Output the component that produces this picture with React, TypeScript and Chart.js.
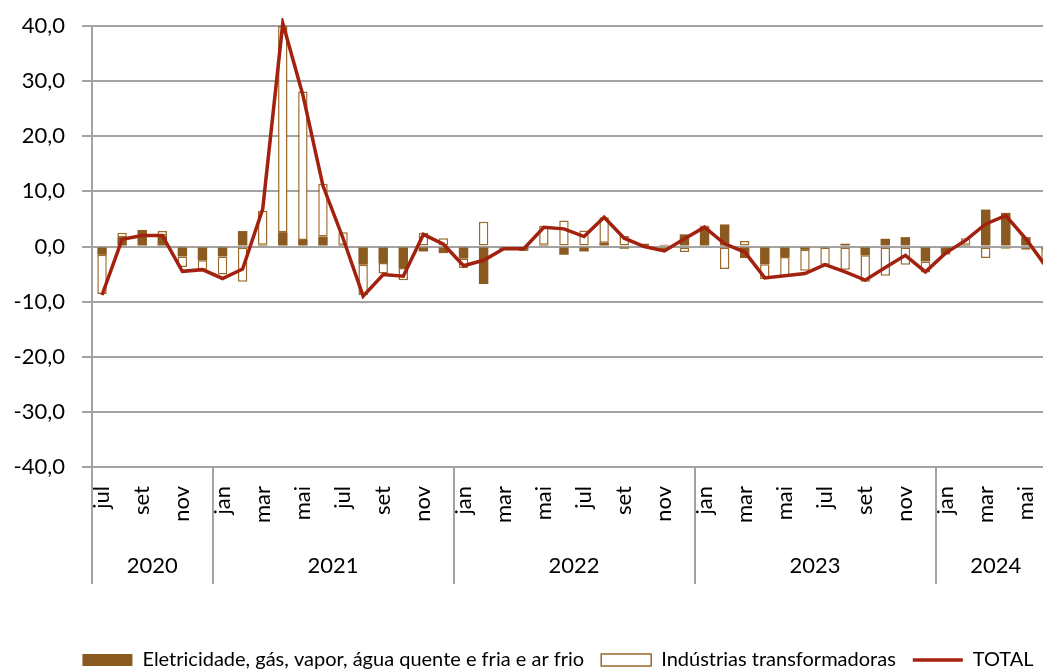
import React, { useEffect, useRef } from 'react';
import { Chart, registerables } from 'chart.js';

Chart.register(...registerables);

// ---- Data ----
const monthLabels = [
  'jul', 'ago', 'set', 'out', 'nov', 'dez',
  'jan', 'fev', 'mar', 'abr', 'mai', 'jun', 'jul', 'ago', 'set', 'out', 'nov', 'dez',
  'jan', 'fev', 'mar', 'abr', 'mai', 'jun', 'jul', 'ago', 'set', 'out', 'nov', 'dez',
  'jan', 'fev', 'mar', 'abr', 'mai', 'jun', 'jul', 'ago', 'set', 'out', 'nov', 'dez',
  'jan', 'fev', 'mar', 'abr', 'mai', 'jun',
];

const years = ['2020', '2021', '2022', '2023', '2024'];
const monthsPerYear = [6, 12, 12, 12, 6];

const eletricidade = [
  -1.5, 1.7, 3.0, 2.0, -1.8, -2.5,
  -1.8, 2.8, 0.3, 2.6, 1.2, 1.8, 0.3, -3.3, -3.0, -3.9, -0.9, -1.2,
  -2.2, -6.8, -0.4, -0.6, 0.3, -1.5, -0.9, 0.7, -0.4, 0.5, 0.3, 2.2,
  3.6, 4.0, -2.1, -3.2, -1.9, -0.6, -0.2, 0.5, -1.6, 1.4, 1.7, -2.7,
  -1.2, 0.3, 6.7, 6.1, 1.7, -0.5,
];

const industrias = [
  -7.1, 0.8, 0.0, 0.8, -1.9, -1.7,
  -3.3, -6.4, 6.2, 37.4, 26.9, 9.6, 2.3, -5.5, -1.9, -2.2, 2.5, 1.5,
  -1.7, 4.5, -0.3, -0.2, 3.4, 4.7, 2.9, 4.6, 1.9, -0.2, -0.7, -1.0,
  0.2, -4.1, 1.0, -2.7, -3.5, -3.8, -3.1, -4.2, -4.8, -5.3, -3.3, -2.0,
  -0.3, 1.2, -2.1, -0.4, -0.6, -2.5,
];

const total = [
  -8.8, 1.3, 2.0, 2.0, -4.5, -4.2,
  -5.8, -4.1, 6.8, 40.5, 27.5, 11.0, 1.5, -9.0, -5.1, -5.4, 2.2, 0.4,
  -3.5, -2.5, -0.4, -0.4, 3.5, 3.2, 1.8, 5.3, 1.5, 0.0, -0.8, 1.4,
  3.5, 0.5, -1.0, -5.7, -5.3, -4.9, -3.3, -4.6, -6.1, -3.8, -1.6, -4.6,
  -1.2, 1.1, 4.1, 5.6, 1.4, -3.6,
];

const seriesNames = [
  'Eletricidade, gás, vapor, água quente e fria e ar frio',
  'Indústrias transformadoras',
  'TOTAL',
];

// ---- Derived helpers (year groups on the category index) ----
const yearStarts: number[] = [];
const yearLabelIndex: number[] = []; // month index just left of each group's centre
{
  let acc = 0;
  monthsPerYear.forEach((n) => {
    yearStarts.push(acc);
    yearLabelIndex.push(acc + n / 2 - 1);
    acc += n;
  });
  yearStarts.push(acc);
}

const BROWN = '#8a5a20';
const BROWN_LINE = '#9a6a2c';
const RED = '#a2210f';
const GRID = '#a3a3a3';
const FONT = 'Lato';

export default function App() {
  const ref = useRef<HTMLCanvasElement>(null);

  useEffect(() => {
    if (!ref.current) return;
    Chart.defaults.font.family = FONT;
    const chart = new Chart(ref.current, {
      type: 'bar',
      data: {
        labels: monthLabels,
        datasets: [
          {
            type: 'bar',
            label: seriesNames[0],
            data: eletricidade,
            backgroundColor: BROWN,
            borderColor: BROWN,
            borderWidth: 0,
            stack: 'setores',
            order: 1,
            xAxisID: 'x',
            yAxisID: 'y',
            barPercentage: 0.47,
            categoryPercentage: 1,
          },
          {
            type: 'bar',
            label: seriesNames[1],
            data: industrias,
            backgroundColor: '#ffffff',
            borderColor: BROWN_LINE,
            borderWidth: 1.5,
            borderSkipped: false,
            stack: 'setores',
            order: 1,
            xAxisID: 'x',
            yAxisID: 'y',
            barPercentage: 0.47,
            categoryPercentage: 1,
          },
          {
            type: 'line',
            label: seriesNames[2],
            data: total,
            borderColor: RED,
            backgroundColor: RED,
            borderWidth: 3.5,
            pointRadius: 0,
            pointHoverRadius: 0,
            tension: 0,
            stack: 'total',
            order: 0,
            clip: 8,
            xAxisID: 'x',
            yAxisID: 'y',
          },
        ],
      } as any,
      options: {
        animation: false,
        responsive: false,
        devicePixelRatio: 1,
        layout: { padding: { top: 26, left: 0, right: 4, bottom: 0 } },
        plugins: {
          tooltip: { enabled: false },
          title: { display: false },
          legend: {
            position: 'bottom',
            labels: {
              usePointStyle: true,
              pointStyleWidth: 50,
              boxWidth: 50,
              boxHeight: 12,
              padding: 17,
              color: '#000',
              font: { family: FONT, size: 20 },
              sort: (a: any, b: any) => a.datasetIndex - b.datasetIndex,
              generateLabels: (c: any) => {
                const items = (Chart.defaults.plugins.legend.labels as any).generateLabels(c);
                items.forEach((it: any) => {
                  it.pointStyle = it.datasetIndex === 2 ? 'line' : 'rect';
                });
                return items;
              },
            },
          },
        },
        scales: {
          x: {
            type: 'category',
            position: 'bottom',
            stacked: true,
            offset: true,
            weight: 0,
            grid: {
              display: true,
              offset: true,
              drawOnChartArea: false,
              drawTicks: true,
              tickLength: 117,
              lineWidth: 2,
              color: (ctx: any) => (yearStarts.includes(ctx.index) ? GRID : 'rgba(0,0,0,0)'),
            },
            border: { display: false },
            ticks: {
              autoSkip: false,
              minRotation: 90,
              maxRotation: 90,
              padding: -98,
              color: '#000',
              font: { family: FONT, size: 22 },
              callback: (_v: any, i: number) => (i % 2 === 0 ? monthLabels[i] : ''),
            },
            afterFit: (s: any) => {
              s.height = 80;
            },
          },
          x2: {
            type: 'category',
            labels: monthLabels,
            position: 'bottom',
            offset: true,
            weight: 1,
            grid: { display: false },
            border: { display: false },
            ticks: {
              autoSkip: false,
              minRotation: 0,
              maxRotation: 0,
              padding: -2,
              labelOffset: 10,
              color: '#000',
              font: { family: FONT, size: 22 },
              callback: (_v: any, i: number) => {
                const k = yearLabelIndex.indexOf(i);
                return k >= 0 ? years[k] : '';
              },
            },
            afterFit: (s: any) => {
              s.height = 86;
            },
          },
          y: {
            type: 'linear',
            position: 'left',
            stacked: true,
            min: -40,
            max: 40,
            ticks: {
              stepSize: 10,
              padding: 17,
              color: '#000',
              font: { family: FONT, size: 22 },
              callback: (v: any) => Number(v).toFixed(1).replace('.', ','),
            },
            grid: { color: GRID, lineWidth: 2, tickLength: 10 },
            border: { display: true, color: GRID, width: 2 },
            afterFit: (s: any) => {
              s.width = 92;
              s.paddingTop = 0;
            },
          },
          yRight: {
            type: 'linear',
            position: 'right',
            min: 0,
            max: 1,
            grid: { display: false },
            border: { display: false },
            ticks: { display: false },
            afterFit: (s: any) => {
              s.width = 60;
            },
          },
        },
      } as any,
    });
    return () => chart.destroy();
  }, []);

  return (
    <div
      style={{
        position: 'fixed',
        left: 0,
        top: 0,
        width: 1043,
        height: 670,
        overflow: 'hidden',
        background: '#ffffff',
      }}
    >
      <canvas ref={ref} width={1120} height={680} style={{ display: 'block', width: 1120, height: 680 }} />
    </div>
  );
}
